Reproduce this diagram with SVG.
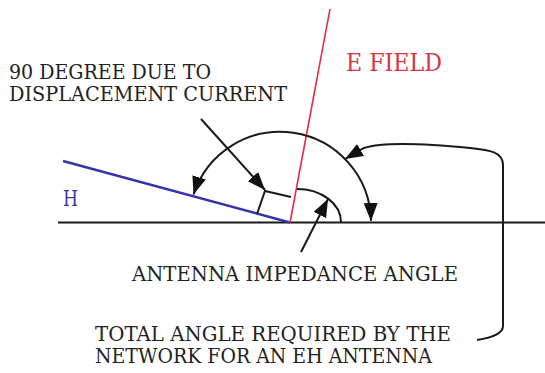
<svg xmlns="http://www.w3.org/2000/svg" width="545" height="373" viewBox="0 0 545 373">
<style>
.k{fill:none;stroke:#1a1a1a;stroke-width:2}
text{font-family:"DejaVu Serif","Liberation Serif",serif}
</style>
<defs>
<marker id="ah" markerUnits="userSpaceOnUse" markerWidth="20" markerHeight="16" refX="18" refY="7" orient="auto-start-reverse">
<path d="M0,0 L18,7 L0,14 Z" fill="#111"/>
</marker>
</defs>
<rect width="545" height="373" fill="#fff"/>
<g id="axis"><line x1="58" y1="222.5" x2="545" y2="222.5" stroke="#1a1a1a" stroke-width="2"/></g>
<g id="h-field">
<line x1="63" y1="161" x2="290" y2="222.5" stroke="#3333aa" stroke-width="2.5"/>
<text x="63" y="206" font-size="22" fill="#3a3aa8" textLength="15" lengthAdjust="spacingAndGlyphs">H</text>
</g>
<g id="e-field">
<line x1="290" y1="222.5" x2="330" y2="9" stroke="#e0304a" stroke-width="1.6"/>
<text x="346" y="71" font-size="24" fill="#d83444" textLength="96" lengthAdjust="spacingAndGlyphs">E FIELD</text>
</g>
<g id="label-90" font-size="20" fill="#222">
<text x="9" y="79" textLength="202" lengthAdjust="spacingAndGlyphs">90 DEGREE DUE TO</text>
<text x="9" y="101" textLength="278" lengthAdjust="spacingAndGlyphs">DISPLACEMENT CURRENT</text>
</g>
<g id="label-impedance" font-size="20" fill="#222">
<text x="132" y="281" textLength="326" lengthAdjust="spacingAndGlyphs">ANTENNA IMPEDANCE ANGLE</text>
</g>
<g id="label-total" font-size="20" fill="#222">
<text x="95" y="341" textLength="356" lengthAdjust="spacingAndGlyphs">TOTAL ANGLE REQUIRED BY THE</text>
<text x="95" y="363" textLength="337" lengthAdjust="spacingAndGlyphs">NETWORK FOR AN EH ANTENNA</text>
</g>
<g id="connectors">
<path class="k" d="M193.5,194.5 A91,91 0 0 1 371,221" marker-start="url(#ah)" marker-end="url(#ah)"/>
<path class="k" d="M297,189 A44,33 0 0 1 341,222"/>
<polyline class="k" points="257,214 265,191 291,197" stroke-width="1.6"/>
<line class="k" x1="201" y1="119" x2="265" y2="190" marker-end="url(#ah)"/>
<line class="k" x1="301" y1="252" x2="328" y2="199" marker-end="url(#ah)"/>
<path class="k" d="M477,340 Q503,336 503,326 L503,165 C503,152 490,150 470,148 C430,144 385,141 364,148 L345,159" marker-end="url(#ah)"/>
</g>
</svg>
